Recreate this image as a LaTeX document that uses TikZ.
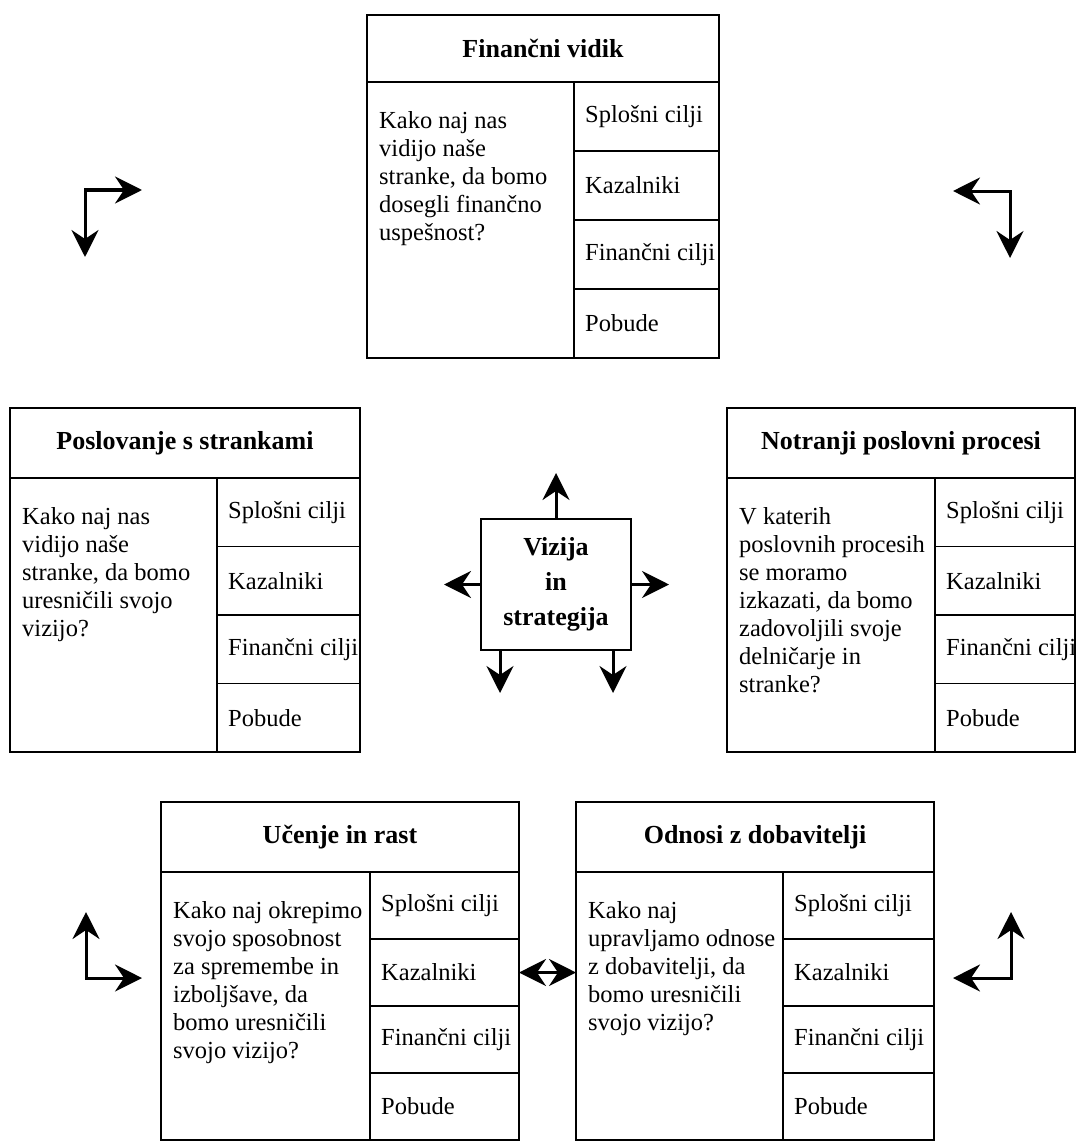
\documentclass[tikz,border=0pt]{standalone}
\usepackage{fontspec}
\setmainfont{Liberation Serif}
\usetikzlibrary{arrows.meta}

\newcommand\bodyfont{\fontsize{24.5}{28}\selectfont}
\newcommand\headfont{\fontsize{26}{30}\selectfont\bfseries}

\tikzset{
  cell/.style={draw, line width=1.8pt, inner sep=0pt, outer sep=0pt, anchor=north west},
  celltext/.style={anchor=west, inner sep=0pt, font=\bodyfont},
  tip/.tip={Stealth[length=27pt,width=27pt,inset=9pt]},
  arr/.style={line width=3pt, -tip},
  darr/.style={line width=3pt, tip-tip},
}

% One scorecard: #1 name, #2 left, #3 top, #4 width, #5 question column width,
% #6 header height, #7 row height, #8 title, #9 question
\newcommand\bsccard[9]{%
  \pgfmathsetmacro\bscR{#4-#5}%
  \pgfmathsetmacro\bscQ{4*#7}%
  \node[cell, minimum width=#4pt, minimum height=#6pt, font=\headfont] (#1-h) at (#2,#3) {#8};
  \node[cell, minimum width=#5pt, minimum height=\bscQ pt] (#1-q) at (#1-h.south west) {};
  \node[anchor=north west, inner sep=0pt, align=left, font=\bodyfont] (#1-qt)
    at ([xshift=12pt,yshift=-29pt]#1-q.north west) {#9};
  \node[cell, minimum width=\bscR pt, minimum height=#7pt] (#1-c1) at (#1-q.north east) {};
  \node[cell, minimum width=\bscR pt, minimum height=#7pt] (#1-c2) at (#1-c1.south west) {};
  \node[cell, minimum width=\bscR pt, minimum height=#7pt] (#1-c3) at (#1-c2.south west) {};
  \node[cell, minimum width=\bscR pt, minimum height=#7pt] (#1-c4) at (#1-c3.south west) {};
  \node[celltext] (#1-t1) at ([xshift=11pt]#1-c1.west) {Splošni cilji};
  \node[celltext] (#1-t2) at ([xshift=11pt]#1-c2.west) {Kazalniki};
  \node[celltext] (#1-t3) at ([xshift=11pt]#1-c3.west) {Finančni cilji};
  \node[celltext] (#1-t4) at ([xshift=11pt]#1-c4.west) {Pobude};
}

\begin{document}
\begin{tikzpicture}[x=1pt, y=-1pt]
\useasboundingbox (0,0) rectangle (1076,1142);

% the five perspectives
\bsccard{fin}{367}{15}{352}{207}{67}{69}{Finančni vidik}
  {Kako naj nas\\vidijo naše\\stranke, da bomo\\dosegli finančno\\uspešnost?}
\bsccard{cus}{10}{408}{350}{207}{70}{68.5}{Poslovanje s strankami}
  {Kako naj nas\\vidijo naše\\stranke, da bomo\\uresničili svojo\\vizijo?}
\bsccard{int}{727}{408}{348}{208}{70}{68.5}{Notranji poslovni procesi}
  {V katerih\\poslovnih procesih\\se moramo\\izkazati, da bomo\\zadovoljili svoje\\delničarje in\\stranke?}
\bsccard{lrn}{161}{802}{358}{209}{70}{67}{Učenje in rast}
  {Kako naj okrepimo\\svojo sposobnost\\za spremembe in\\izboljšave, da\\bomo uresničili\\svojo vizijo?}
\bsccard{sup}{576}{802}{358}{207}{70}{67}{Odnosi z dobavitelji}
  {Kako naj\\upravljamo odnose\\z dobavitelji, da\\bomo uresničili\\svojo vizijo?}

% vision and strategy in the centre
\node[draw, line width=1.8pt, outer sep=0pt, minimum width=150pt, minimum height=131pt, align=center,
      font=\fontsize{26}{35}\selectfont\bfseries] (vis) at (556,584.5) {Vizija\\in\\strategija};
\coordinate (vis-up) at (556,473);
\coordinate (vis-lt) at (444,584.5);
\coordinate (vis-rt) at (669,584.5);
\draw[arr] (vis.north) -- (vis-up);
\draw[arr] (vis.west) -- (vis-lt);
\draw[arr] (vis.east) -- (vis-rt);
\draw[arr] ([xshift=19pt]vis.south west) -- ++(0,43);
\draw[arr] ([xshift=-18pt]vis.south east) -- ++(0,43);

% learning <-> suppliers
\draw[darr] (lrn-c2.east) -- (lrn-c2.east -| sup-q.west);

% corner arrows
\coordinate (tl-c) at (85,190);
\coordinate (tl-r) at (142,190);
\coordinate (tl-d) at (85,257);
\draw[darr] (tl-r) -- (tl-c) -- (tl-d);

\coordinate (tr-c) at (1010,191);
\coordinate (tr-l) at (953,191);
\coordinate (tr-d) at (1010,258);
\draw[darr] (tr-l) -- (tr-c) -- (tr-d);

\coordinate (bl-c) at (86,978);
\coordinate (bl-u) at (86,912);
\coordinate (bl-r) at (142,978);
\draw[darr] (bl-u) -- (bl-c) -- (bl-r);

\coordinate (br-c) at (1011,978);
\coordinate (br-u) at (1011,912);
\coordinate (br-l) at (953,978);
\draw[darr] (br-u) -- (br-c) -- (br-l);
\end{tikzpicture}
\end{document}
